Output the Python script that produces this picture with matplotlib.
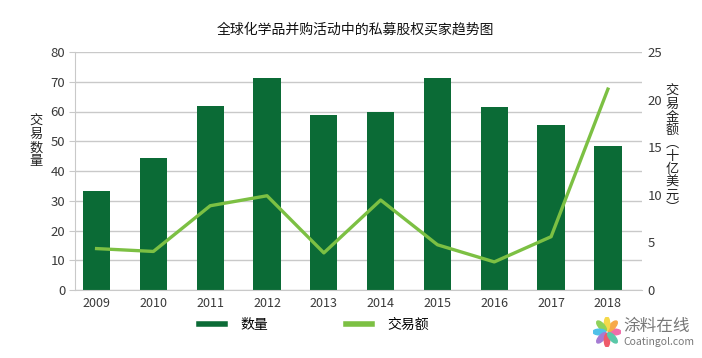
import matplotlib
matplotlib.use("Agg")
import matplotlib.pyplot as plt
from matplotlib.patches import Ellipse
from matplotlib.lines import Line2D
import numpy as np

plt.rcParams['font.family'] = ['Noto Sans CJK SC', 'DejaVu Sans']

years = ['2009', '2010', '2011', '2012', '2013', '2014', '2015', '2016', '2017', '2018']
deal_count = [33.3, 44.4, 61.7, 71.4, 58.7, 59.8, 71.3, 61.6, 55.4, 48.4]
deal_value = [4.35, 4.05, 8.85, 9.9, 3.9, 9.45, 4.75, 2.95, 5.6, 21.1]

title = '全球化学品并购活动中的私募股权买家趋势图'
left_label = '交易数量'
right_label = '交易金额︵十亿美元︶'
legend_labels = ['数量', '交易额']

bar_color = '#0b6b36'
line_color = '#7cc043'
grid_color = '#c9c9c9'
text_color = '#3a3a3a'

fig = plt.figure(figsize=(7.02, 3.58), dpi=100)
ax = fig.add_axes([75/702, 1-290/358, (642-75)/702, (290-52)/358])
ax2 = ax.twinx()

x = np.arange(len(years))
ax.bar(x, deal_count, width=0.48, color=bar_color, zorder=2)
ax.set_xlim(-0.38, 9.6)
ax.set_ylim(0, 80)
ax.set_yticks(range(0, 81, 10))
ax.set_xticks(x)
ax.set_xticklabels(years)
ax.yaxis.grid(True, color=grid_color, linewidth=1.0, zorder=0)
ax.set_axisbelow(True)
for s in ['top', 'right']:
    ax.spines[s].set_visible(False)
ax.spines['left'].set_color(grid_color)
ax.spines['bottom'].set_color(grid_color)
ax.tick_params(axis='y', length=4, color=grid_color, labelsize=9.5, labelcolor=text_color, pad=3)
ax.tick_params(axis='x', length=0, labelsize=9, labelcolor=text_color, pad=5)

ax2.plot(x, deal_value, color=line_color, linewidth=2.4, zorder=3)
ax2.set_ylim(0, 25)
ax2.set_yticks(range(0, 26, 5))
for s in ['top', 'right', 'left', 'bottom']:
    ax2.spines[s].set_visible(False)
ax2.tick_params(axis='y', length=0, labelsize=9.5, labelcolor=text_color, pad=4)

fig.text(355/702, 1-30/358, title, ha='center', va='center', fontsize=10, color='#111111')
fig.text(36/702, 1-141/358, '\n'.join(left_label), ha='center', va='center',
         fontsize=9.5, color='#222222', linespacing=1.05)
fig.text(672/702, 1-150/358, '\n'.join(right_label), ha='center', va='center',
         fontsize=9.5, color='#222222', linespacing=1.0)

# legend
handles = [Line2D([0], [0], color=bar_color, linewidth=4),
           Line2D([0], [0], color=line_color, linewidth=4)]
fig.legend(handles, legend_labels, loc='center', bbox_to_anchor=(314/702, 1-325/358),
           ncol=2, frameon=False, fontsize=10, handlelength=1.9, columnspacing=5.6,
           handletextpad=1.1)

# watermark
wax = fig.add_axes([593/702, 1-347/358, 28/702, 30/358])
wax.set_xlim(-1, 1); wax.set_ylim(-1, 1); wax.axis('off')
petal_colors = ['#f06ea9', '#f7a94a', '#f5d94a', '#8fd25a', '#4fc1e9', '#a57bd3', '#ef5b6a', '#5ac8a8']
for i, c in enumerate(petal_colors):
    ang = i * 45
    r = 0.55
    cx, cy = r*np.cos(np.radians(ang)), r*np.sin(np.radians(ang))
    wax.add_patch(Ellipse((cx, cy), 0.9, 0.38, angle=ang, color=c))
fig.text(623/702, 1-326/358, '涂料在线', ha='left', va='center', fontsize=12, color='#777777')
fig.text(623/702, 1-342/358, 'Coatingol.com', ha='left', va='center', fontsize=7.5, color='#777777')

fig.savefig('out.png', dpi=100)
